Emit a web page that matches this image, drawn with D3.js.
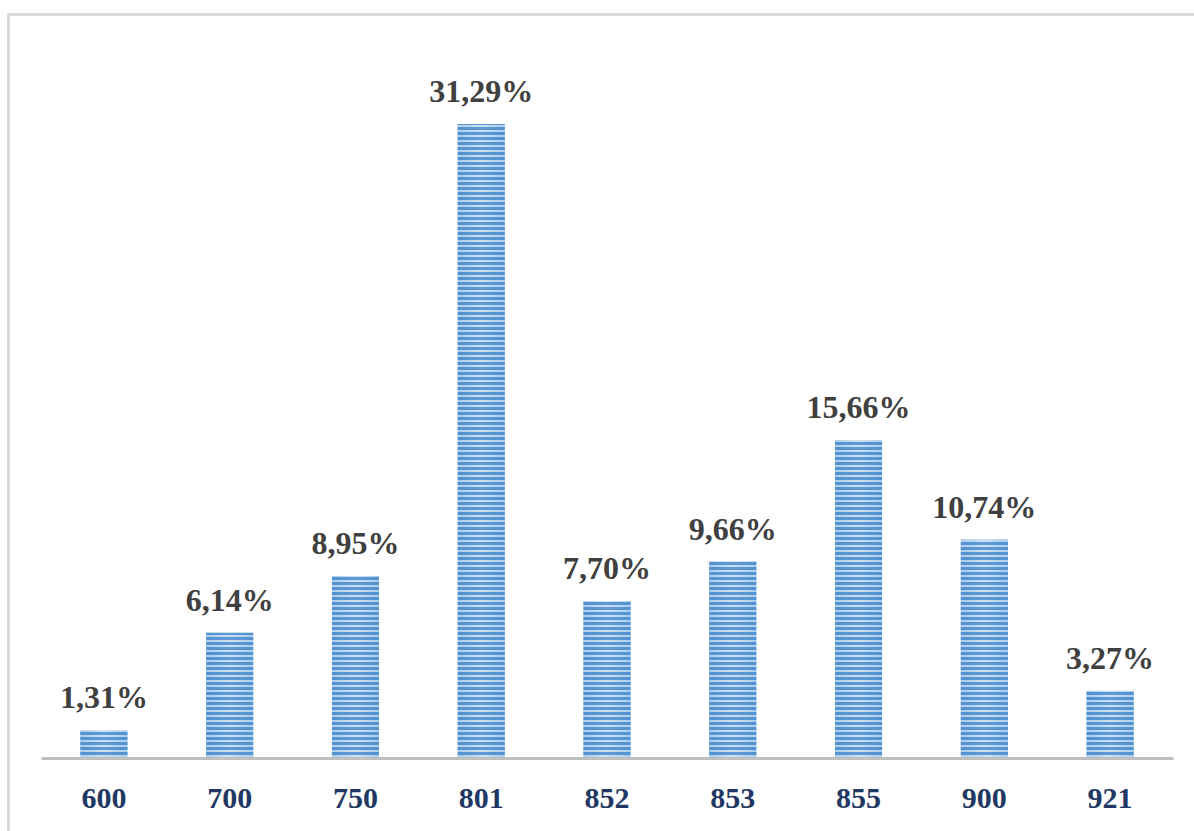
<!DOCTYPE html>
<html>
<head>
<meta charset="utf-8">
<script src="https://cdn.jsdelivr.net/npm/d3@7"></script>
<style>
  html, body { margin: 0; padding: 0; background: #ffffff; }
  svg { display: block; }
</style>
</head>
<body>
<svg id="chart" width="1194" height="831"></svg>
<script>
// Share of each code, in percent
const categories = ["600", "700", "750", "801", "852", "853", "855", "900", "921"];
const values = [1.31, 6.14, 8.95, 31.29, 7.70, 9.66, 15.66, 10.74, 3.27];
const valueLabels = ["1,31%", "6,14%", "8,95%", "31,29%", "7,70%", "9,66%", "15,66%", "10,74%", "3,27%"];

const W = 1194, H = 831;
const margin = { left: 41, right: 21 };
const baseY = 757;

const svg = d3.select("#chart");

// Outer frame (runs off the right and bottom edges)
svg.append("rect")
  .attr("x", 8.5).attr("y", 14.5)
  .attr("width", W + 20).attr("height", H + 20)
  .attr("fill", "none")
  .attr("stroke", "#d9d9d9")
  .attr("stroke-width", 3);

const x = d3.scaleBand()
  .domain(categories)
  .range([margin.left, W - margin.right])
  .paddingInner(0.626)
  .paddingOuter(0.313);

const y = d3.scaleLinear()
  .domain([0, 35])
  .range([baseY, baseY - 35 * 20.23]);

const defs = svg.append("defs");

// Horizontal shading across each bar: darker edges, lighter middle
const grad = defs.append("linearGradient")
  .attr("id", "barShade")
  .attr("x1", "0%").attr("x2", "100%").attr("y1", "0%").attr("y2", "0%");
grad.append("stop").attr("offset", "0%").attr("stop-color", "#5b9bd5");
grad.append("stop").attr("offset", "50%").attr("stop-color", "#9cc3ea");
grad.append("stop").attr("offset", "100%").attr("stop-color", "#5b9bd5");

// Horizontal stripes laid over the shading
const pat = defs.append("pattern")
  .attr("id", "stripes")
  .attr("patternUnits", "userSpaceOnUse")
  .attr("width", 8).attr("height", 5)
  .attr("y", baseY);
pat.append("rect").attr("x", 0).attr("y", 0).attr("width", 8).attr("height", 3)
  .attr("fill", "#4f90d0").attr("opacity", 0.8);
pat.append("rect").attr("x", 0).attr("y", 3).attr("width", 8).attr("height", 2)
  .attr("fill", "#ffffff").attr("opacity", 0.5);

const bars = svg.append("g");
const data = categories.map((c, i) => ({ c, v: values[i], label: valueLabels[i] }));

bars.selectAll("rect.base")
  .data(data)
  .join("rect")
  .attr("class", "base")
  .attr("x", d => x(d.c))
  .attr("width", x.bandwidth())
  .attr("y", d => y(d.v))
  .attr("height", d => y(0) - y(d.v))
  .attr("fill", "url(#barShade)");

bars.selectAll("rect.stripe")
  .data(data)
  .join("rect")
  .attr("class", "stripe")
  .attr("x", d => x(d.c))
  .attr("width", x.bandwidth())
  .attr("y", d => y(d.v))
  .attr("height", d => y(0) - y(d.v))
  .attr("fill", "url(#stripes)");

// Baseline axis
const axis = d3.axisBottom(x).tickSize(0).tickPadding(0);
const gAxis = svg.append("g")
  .attr("transform", `translate(0,${baseY + 1})`)
  .call(axis);
gAxis.select(".domain")
  .attr("stroke", "#bfbfbf")
  .attr("stroke-width", 3);
gAxis.selectAll(".tick text")
  .attr("dy", null)
  .attr("y", 50)
  .attr("fill", "#1f3864")
  .style("font-family", "'Liberation Serif', 'Times New Roman', serif")
  .style("font-weight", "bold")
  .style("font-size", "30px");

// Value labels above bars
svg.append("g").selectAll("text")
  .data(data)
  .join("text")
  .attr("x", d => x(d.c) + x.bandwidth() / 2)
  .attr("y", d => y(d.v) - 22)
  .attr("text-anchor", "middle")
  .attr("fill", "#404040")
  .style("font-family", "'Liberation Serif', 'Times New Roman', serif")
  .style("font-weight", "bold")
  .style("font-size", "32px")
  .text(d => d.label);
</script>
</body>
</html>
